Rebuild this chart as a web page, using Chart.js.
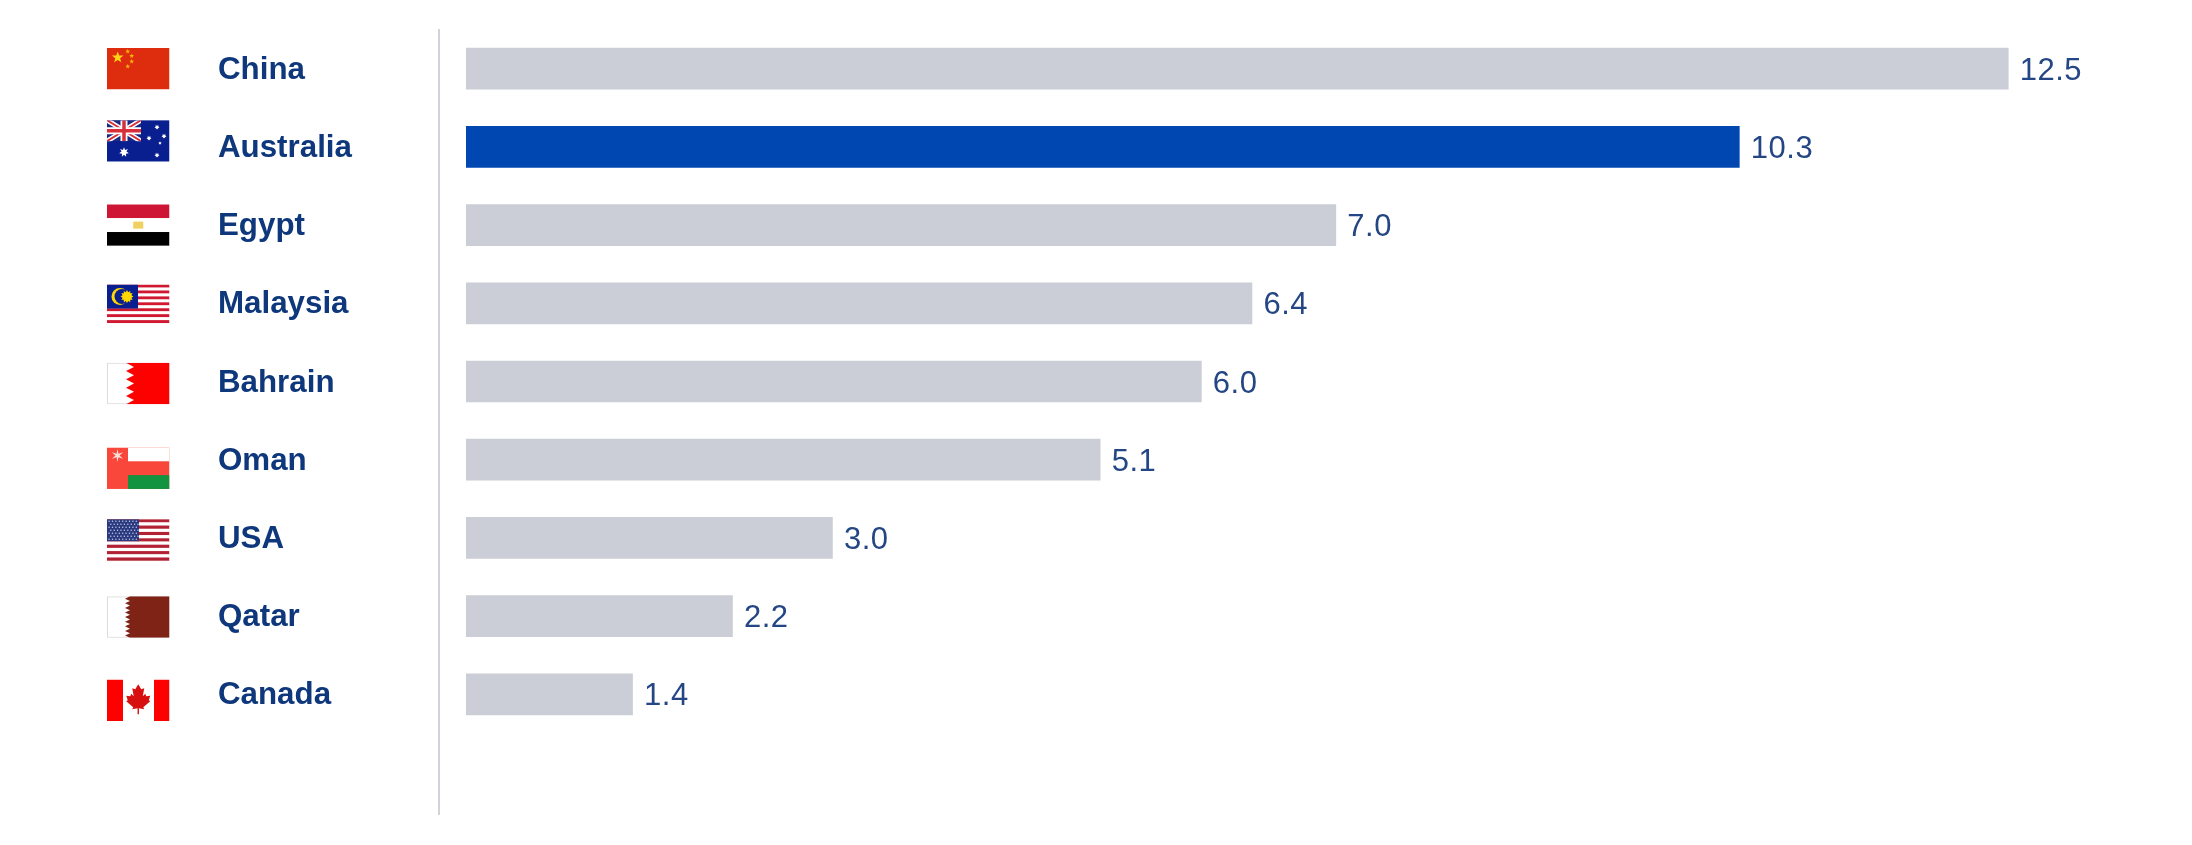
<!DOCTYPE html>
<html>
<head>
<meta charset="utf-8">
<title>Country ranking</title>
<script src="https://cdn.jsdelivr.net/npm/chart.js@4/dist/chart.umd.js"></script>
<style>
  html, body { margin: 0; padding: 0; background: #fff; }
  canvas { display: block; }
</style>
</head>
<body>
<canvas id="chart" width="2192" height="845"></canvas>
<script>
const countries = ['China', 'Australia', 'Egypt', 'Malaysia', 'Bahrain', 'Oman', 'USA', 'Qatar', 'Canada'];
const values = [12.5, 10.32, 7.05, 6.37, 5.96, 5.14, 2.97, 2.16, 1.35];
const highlighted = 'Australia';

const FLAG_X = 107;
const FLAG_W = 62.5;
const FLAG_H = 41.5;
// the flags do not sit exactly on the bar centres in the original slide
const flagNudge = { China: 0, Australia: -6, Egypt: 0, Malaysia: 2, Bahrain: 2, Oman: 8.5, USA: 2, Qatar: 1, Canada: 6 };

function star(ctx, cx, cy, r, points, color, inner) {
  ctx.fillStyle = color;
  ctx.beginPath();
  for (let i = 0; i < points * 2; i++) {
    const rad = i % 2 ? r * (inner || 0.42) : r;
    const a = -Math.PI / 2 + i * Math.PI / points;
    ctx.lineTo(cx + rad * Math.cos(a), cy + rad * Math.sin(a));
  }
  ctx.closePath();
  ctx.fill();
}

function stripes(ctx, w, h, n, a, b) {
  for (let i = 0; i < n; i++) {
    ctx.fillStyle = i % 2 ? b : a;
    ctx.fillRect(0, i * h / n, w, h / n + 0.3);
  }
}

function serrated(ctx, w, h, white, color, teeth, from, to) {
  ctx.fillStyle = white;
  ctx.fillRect(0, 0, w, h);
  ctx.strokeStyle = '#dcdcdc';
  ctx.lineWidth = 1;
  ctx.strokeRect(0.5, 0.5, w - 1, h - 1);
  ctx.fillStyle = color;
  ctx.beginPath();
  ctx.moveTo(w, 0);
  ctx.lineTo(from, 0);
  for (let i = 0; i < teeth; i++) {
    ctx.lineTo(to, (i + 0.5) * h / teeth);
    ctx.lineTo(from, (i + 1) * h / teeth);
  }
  ctx.lineTo(w, h);
  ctx.closePath();
  ctx.fill();
}

const flagPainters = {
  China(ctx, w, h) {
    ctx.fillStyle = '#de2d0e';
    ctx.fillRect(0, 0, w, h);
    star(ctx, 10.7, 9.5, 6, 5, '#ffd21a');
    star(ctx, 20.7, 3.5, 2.5, 5, '#f7b50f');
    star(ctx, 24.7, 8, 2.5, 5, '#f7b50f');
    star(ctx, 24.7, 13.5, 2.5, 5, '#f7b50f');
    star(ctx, 20.7, 18.5, 2.5, 5, '#f7b50f');
  },
  Australia(ctx, w, h) {
    ctx.fillStyle = '#0a1f8f';
    ctx.fillRect(0, 0, w, h);
    ctx.save();
    ctx.beginPath();
    ctx.rect(0, 0, 34, 21);
    ctx.clip();
    ctx.fillStyle = '#1a2a80';
    ctx.fillRect(0, 0, 34, 21);
    ctx.strokeStyle = '#fff';
    ctx.lineWidth = 5;
    ctx.beginPath();
    ctx.moveTo(0, 0); ctx.lineTo(34, 21);
    ctx.moveTo(34, 0); ctx.lineTo(0, 21);
    ctx.stroke();
    ctx.strokeStyle = '#d8303a';
    ctx.lineWidth = 1.8;
    ctx.stroke();
    ctx.strokeStyle = '#fff';
    ctx.lineWidth = 7;
    ctx.beginPath();
    ctx.moveTo(17, 0); ctx.lineTo(17, 21);
    ctx.moveTo(0, 10.5); ctx.lineTo(34, 10.5);
    ctx.stroke();
    ctx.strokeStyle = '#d8303a';
    ctx.lineWidth = 3.5;
    ctx.stroke();
    ctx.restore();
    star(ctx, 17, 32, 5, 7, '#fff', 0.5);
    star(ctx, 50, 7, 2.6, 7, '#fff', 0.5);
    star(ctx, 42, 18, 2.6, 7, '#fff', 0.5);
    star(ctx, 57, 16, 2.6, 7, '#fff', 0.5);
    star(ctx, 53, 23, 1.8, 5, '#fff', 0.5);
    star(ctx, 50, 35, 2.6, 7, '#fff', 0.5);
  },
  Egypt(ctx, w, h) {
    ctx.fillStyle = '#ce1533';
    ctx.fillRect(0, 0, w, h / 3);
    ctx.fillStyle = '#fff';
    ctx.fillRect(0, h / 3, w, h / 3);
    ctx.fillStyle = '#000';
    ctx.fillRect(0, 2 * h / 3, w, h / 3);
    ctx.fillStyle = '#f0d060';
    ctx.fillRect(w / 2 - 5, h / 2 - 3.5, 10, 7);
  },
  Malaysia(ctx, w, h) {
    stripes(ctx, w, h, 14, '#d01830', '#fff');
    ctx.fillStyle = '#0a1f8f';
    ctx.fillRect(0, 0, 31, 24);
    ctx.fillStyle = '#ffd800';
    ctx.beginPath();
    ctx.arc(13, 12, 8.5, 0, Math.PI * 2);
    ctx.fill();
    ctx.fillStyle = '#0a1f8f';
    ctx.beginPath();
    ctx.arc(15, 12, 7.5, 0, Math.PI * 2);
    ctx.fill();
    star(ctx, 20, 12, 6.5, 12, '#ffd800', 0.7);
  },
  Bahrain(ctx, w, h) {
    serrated(ctx, w, h, '#fff', '#fd0000', 5, 19, 27);
  },
  Oman(ctx, w, h) {
    ctx.fillStyle = '#f9473c';
    ctx.fillRect(0, 0, w, h);
    ctx.fillStyle = '#fff';
    ctx.fillRect(21, 0, w - 21, h / 3);
    ctx.fillStyle = '#12933f';
    ctx.fillRect(21, 2 * h / 3, w - 21, h / 3);
    star(ctx, 10.5, 8, 6.5, 6, '#fde0d8', 0.3);
  },
  USA(ctx, w, h) {
    stripes(ctx, w, h, 13, '#b22234', '#fff');
    ctx.fillStyle = '#2b3a80';
    ctx.fillRect(0, 0, 32, 22);
    ctx.fillStyle = '#cfd5ea';
    for (let row = 0; row < 7; row++) {
      for (let col = 0; col < 9; col++) {
        ctx.fillRect(1.5 + col * 3.4 + (row % 2) * 1.7, 1.5 + row * 3, 1.2, 1.2);
      }
    }
  },
  Qatar(ctx, w, h) {
    serrated(ctx, w, h, '#fff', '#7e2316', 9, 23, 18);
  },
  Canada(ctx, w, h) {
    ctx.fillStyle = '#fff';
    ctx.fillRect(0, 0, w, h);
    ctx.fillStyle = '#fd0000';
    ctx.fillRect(0, 0, 16, h);
    ctx.fillRect(w - 15.5, 0, 15.5, h);
    const leaf = [[0, -15], [-3, -10], [-6, -11], [-4.5, -3], [-7, -5.5], [-8, -3], [-12, -3.5], [-10.5, 1], [-12, 2],
      [-5, 8], [-6, 10], [-0.7, 9], [-0.7, 15], [0.7, 15], [0.7, 9], [6, 10], [5, 8], [12, 2], [10.5, 1], [12, -3.5],
      [8, -3], [7, -5.5], [4.5, -3], [6, -11], [3, -10]];
    ctx.fillStyle = '#d80f0f';
    ctx.beginPath();
    leaf.forEach(p => ctx.lineTo(w / 2 + p[0], h / 2 - 1 + p[1]));
    ctx.closePath();
    ctx.fill();
  }
};

const slideExtras = {
  id: 'slideExtras',
  afterDraw(chart) {
    const ctx = chart.ctx;
    const yScale = chart.scales.y;

    // divider between the country list and the bars
    ctx.fillStyle = '#d2d4d9';
    ctx.fillRect(438, 29, 2, 786);

    countries.forEach((name, i) => {
      const top = yScale.getPixelForValue(i) - FLAG_H / 2 + flagNudge[name];
      ctx.save();
      ctx.translate(FLAG_X, top);
      ctx.beginPath();
      ctx.rect(0, 0, FLAG_W, FLAG_H);
      ctx.clip();
      flagPainters[name](ctx, FLAG_W, FLAG_H);
      ctx.restore();
    });

    // value labels at the bar ends
    const meta = chart.getDatasetMeta(0);
    ctx.save();
    ctx.font = '31px "Liberation Sans", Arial, sans-serif';
    ctx.letterSpacing = '0.5px';
    ctx.fillStyle = '#254684';
    ctx.textAlign = 'left';
    ctx.textBaseline = 'middle';
    meta.data.forEach((bar, i) => {
      ctx.fillText(values[i].toFixed(1), bar.x + 11.5, bar.y + 2.5);
    });
    ctx.restore();
  }
};

new Chart(document.getElementById('chart').getContext('2d'), {
  type: 'bar',
  data: {
    labels: countries,
    datasets: [{
      data: values,
      backgroundColor: countries.map(c => c === highlighted ? '#0047b2' : '#cbced6'),
      barThickness: 41,
      borderWidth: 0
    }]
  },
  options: {
    indexAxis: 'y',
    responsive: false,
    animation: false,
    devicePixelRatio: 1,
    layout: { padding: { left: 218, right: 48, top: 29.6, bottom: 111.6 } },
    plugins: { legend: { display: false }, tooltip: { enabled: false } },
    scales: {
      x: { display: false, min: 0, max: 13.6 },
      y: {
        grid: { display: false },
        border: { display: false },
        afterFit(scale) { scale.width = 248; },
        ticks: {
          crossAlign: 'far',
          padding: 0,
          labelOffset: 1.5,
          color: '#0e377c',
          font: { family: '"Liberation Sans", Arial, sans-serif', size: 31.3, weight: 'bold' }
        }
      }
    }
  },
  plugins: [slideExtras]
});
</script>
</body>
</html>
